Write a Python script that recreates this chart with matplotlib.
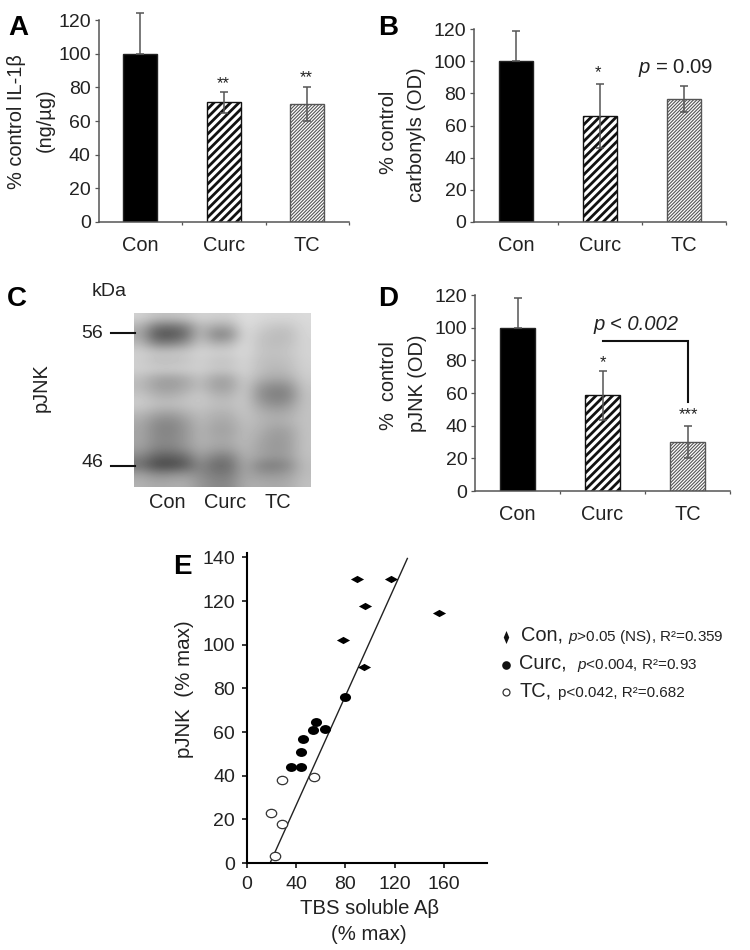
import numpy as np
import matplotlib
matplotlib.use("Agg")
import matplotlib.pyplot as plt
from matplotlib.lines import Line2D
from matplotlib.path import Path

plt.rcParams["font.family"] = ["Liberation Sans", "DejaVu Sans"]
plt.rcParams["mathtext.fontset"] = "custom"
plt.rcParams["mathtext.rm"] = "Liberation Sans"
plt.rcParams["mathtext.it"] = "Liberation Sans:italic"

W, H = 750, 950
TEXT = "#222222"
AXIS = "#555555"

groups = ["Con", "Curc", "TC"]

il1b = [100, 71, 70]
il1b_low = [0, 6, 10]
il1b_high = [24, 6, 10]

carbonyls = [100, 66, 76.5]
carbonyls_low = [0, 20, 8]
carbonyls_high = [19, 20, 8]

pjnk = [100, 58.5, 30]
pjnk_low = [0, 15, 10]
pjnk_high = [18, 15, 10]

bracket_x = [1, 2, 2]
bracket_y = [92, 92, 54.5]

con_x = [89.6, 116.8, 95.6, 155.9, 78.2, 95]
con_y = [130, 130, 117.7, 114.7, 102.2, 89.8]
curc_x = [80, 56, 54, 63.5, 45.9, 43.7, 36, 44]
curc_y = [76, 64.5, 60.7, 61.6, 56.9, 51, 44, 44]
tc_x = [28.2, 54.8, 19.5, 28.2, 22.8]
tc_y = [38, 39.3, 22.7, 18, 3]
fit_x = [19, 130.3]
fit_y = [0.3, 139.5]

# gray levels of the blot, top to bottom
blot = [
    [210, 195, 195, 200, 212, 208, 208, 222, 218, 215, 215, 218],
    [180, 120, 115, 130, 190, 170, 170, 222, 208, 198, 198, 216],
    [165, 85, 80, 105, 190, 130, 135, 220, 198, 188, 188, 214],
    [185, 130, 130, 150, 200, 175, 180, 220, 195, 188, 192, 212],
    [208, 198, 198, 202, 212, 208, 208, 218, 198, 192, 198, 212],
    [205, 190, 190, 195, 208, 195, 195, 214, 192, 188, 192, 210],
    [208, 204, 204, 206, 208, 200, 200, 212, 192, 182, 188, 208],
    [190, 165, 160, 170, 195, 165, 165, 208, 178, 168, 172, 204],
    [185, 160, 155, 168, 190, 160, 160, 204, 152, 135, 142, 198],
    [198, 178, 175, 188, 202, 180, 180, 204, 145, 125, 130, 194],
    [204, 192, 190, 195, 200, 190, 190, 200, 162, 142, 152, 194],
    [185, 165, 160, 175, 190, 178, 178, 198, 178, 168, 172, 194],
    [170, 140, 135, 155, 185, 168, 168, 192, 182, 172, 178, 194],
    [165, 135, 130, 150, 180, 162, 162, 188, 176, 158, 162, 194],
    [165, 138, 135, 152, 180, 168, 168, 188, 168, 152, 158, 194],
    [160, 132, 130, 148, 175, 162, 162, 184, 164, 152, 158, 194],
    [135, 98, 95, 110, 160, 128, 128, 178, 162, 152, 158, 192],
    [112, 72, 70, 88, 140, 105, 108, 172, 132, 122, 138, 188],
    [160, 138, 142, 150, 140, 122, 122, 168, 152, 148, 158, 188],
    [178, 168, 172, 175, 150, 135, 135, 172, 172, 168, 172, 192],
]

fig = plt.figure(figsize=(W / 100, H / 100), dpi=100)


def pixel_axes(left, top, right, bottom):
    return fig.add_axes([left / W, 1 - bottom / H, (right - left) / W, (bottom - top) / H])


def label(x, y, s, size=14.4, **kw):
    kw.setdefault("ha", "center")
    kw.setdefault("va", "center")
    kw.setdefault("color", TEXT)
    fig.text(x / W, 1 - y / H, s, fontsize=size, **kw)


def mark(x, y, marker, size, **kw):
    fig.add_artist(Line2D([x / W], [1 - y / H], marker=marker, markersize=size,
                          linestyle="none", transform=fig.transFigure, **kw))


def rule(x0, x1, y):
    fig.add_artist(Line2D([x0 / W, x1 / W], [1 - y / H, 1 - y / H], color="#111111",
                          linewidth=1.5, transform=fig.transFigure))


def bar_panel(box, values, low, high):
    ax = pixel_axes(*box)
    x = np.arange(3)
    plt.rcParams["hatch.linewidth"] = 2.0
    ax.bar(x[1], values[1], 0.41, facecolor="white", edgecolor="#111111", hatch="////", linewidth=1.0)
    plt.rcParams["hatch.linewidth"] = 0.8
    ax.bar(x[2], values[2], 0.41, facecolor="white", edgecolor="#555555", hatch="/" * 10, linewidth=1.0)
    ax.bar(x[0], values[0], 0.41, color="black", edgecolor="#222222", linewidth=1.0)
    ax.errorbar(x, values, yerr=[low, high], fmt="none", ecolor=AXIS, elinewidth=1.1,
                capsize=3.2, capthick=1.1, clip_on=False, zorder=4)
    ax.set_xlim(-0.5, 2.5)
    ax.set_ylim(0, 120)
    ax.set_yticks(range(0, 121, 20))
    ax.set_xticks([0.5, 1.5, 2.5])
    ax.set_xticklabels([])
    ax.set_xticks(x, minor=True)
    ax.set_xticklabels(groups, minor=True, fontsize=14.4, color=TEXT)
    ax.tick_params(axis="x", which="major", length=2, width=0.9, color=AXIS)
    ax.tick_params(axis="x", which="minor", length=0, pad=10)
    ax.tick_params(axis="y", length=3, width=0.9, color=AXIS, labelsize=14,
                   labelcolor=TEXT, pad=2.5)
    for side in ["top", "right"]:
        ax.spines[side].set_visible(False)
    for side in ["left", "bottom"]:
        ax.spines[side].set_color(AXIS)
        ax.spines[side].set_linewidth(1.1)
    return ax


# A
bar_panel((98.5, 20, 349, 222), il1b, il1b_low, il1b_high)
label(18, 35, "A", 20, weight="bold", color="black", va="baseline")
label(17, 122, "% control IL-1β", rotation=90)
label(45, 120, "(ng/µg)", rotation=90)
label(223, 84, "**", 12)
label(306, 78, "**", 12)

# B
bar_panel((474, 29, 726, 222), carbonyls, carbonyls_low, carbonyls_high)
label(388, 35, "B", 20, weight="bold", color="black", va="baseline")
label(388, 132, "% control", rotation=90)
label(416, 135, "carbonyls (OD)", rotation=90)
label(598, 73, "*", 12)
label(676, 68, r"$\mathit{p}$ = 0.09", 14.6)

# C
ax_c = pixel_axes(134, 313, 311, 487)
ax_c.imshow(blot, cmap="gray", vmin=0, vmax=255, aspect="auto", interpolation="bicubic")
ax_c.axis("off")
label(17, 306, "C", 20, weight="bold", color="black", va="baseline")
label(109, 292, "kDa", 14)
label(103, 334, "56", 14, ha="right")
label(103, 462, "46", 14, ha="right")
rule(111, 135, 333)
rule(111, 135, 466)
label(41, 388, "pJNK", rotation=90)
label(167, 503, "Con")
label(225, 503, "Curc")
label(278, 503, "TC")

# D
ax_d = bar_panel((475, 295, 730, 491), pjnk, pjnk_low, pjnk_high)
ax_d.plot(bracket_x, bracket_y, color="#111111", linewidth=1.5, solid_joinstyle="miter", clip_on=False)
label(388, 306, "D", 20, weight="bold", color="black", va="baseline")
label(388, 386, "%  control", rotation=90)
label(417, 383, "pJNK (OD)", rotation=90)
label(603, 363, "*", 12)
label(688, 415, "***", 12)
label(636, 324, "p < 0.002", 14.6, style="italic")

# E
circle = Path.unit_circle()
ellipse = Path(circle.vertices * [1, 0.8], circle.codes)
diamond = Path([(-1, 0), (0, 0.55), (1, 0), (0, -0.55), (-1, 0)], closed=True)

ax_e = pixel_axes(247, 553, 487, 863)
ax_e.plot(fit_x, fit_y, color="#222222", linewidth=1.0, clip_on=False)
ax_e.plot(con_x, con_y, linestyle="none", marker=diamond, markersize=9.5, color="black", markeredgewidth=0)
ax_e.plot(curc_x, curc_y, linestyle="none", marker=ellipse, markersize=8, color="black", markeredgewidth=0)
ax_e.plot(tc_x, tc_y, linestyle="none", marker=ellipse, markersize=7.5, markerfacecolor="white",
          markeredgecolor="#333333", markeredgewidth=0.9, clip_on=False, zorder=5)
ax_e.set_xlim(0, 195)
ax_e.set_ylim(0, 142)
ax_e.set_xticks(range(0, 161, 40))
ax_e.set_yticks(range(0, 141, 20))
ax_e.tick_params(length=3.5, width=1.1, labelsize=14, labelcolor=TEXT)
ax_e.tick_params(axis="x", pad=6)
ax_e.tick_params(axis="y", pad=5)
for side in ["top", "right"]:
    ax_e.spines[side].set_visible(False)
for side in ["left", "bottom"]:
    ax_e.spines[side].set_linewidth(1.5)
label(182, 574, "E", 20, weight="bold", color="black", va="baseline")
label(185, 689, "pJNK  (% max)", 14.8, rotation=90)
label(369, 908, "TBS soluble Aβ", 14.6)
label(369, 934, "(% max)", 14.6)

# legend of E
narrow = Path([(0, 1), (0.42, 0), (0, -1), (-0.42, 0), (0, 1)], closed=True)
mark(505.7, 637, narrow, 9.4, color="#111111", markeredgewidth=0)
mark(505.7, 665, "o", 6.2, color="#111111", markeredgewidth=0)
mark(505.7, 692, "o", 5, markerfacecolor="white", markeredgecolor="#333333", markeredgewidth=0.9)
label(520.5, 635, "Con,", 14.4, ha="left")
label(568, 637, r"$\mathit{p}$>0.05 (NS), R²=0.359", 11, ha="left")
label(519, 663, "Curc,", 14.4, ha="left")
label(577, 666, r"$\mathit{p}$<0.004, R²=0.93", 11, ha="left")
label(520, 691, "TC,", 14.4, ha="left")
label(558, 693, "p<0.042, R²=0.682", 11, ha="left")

fig.savefig("out.png", dpi=100)
